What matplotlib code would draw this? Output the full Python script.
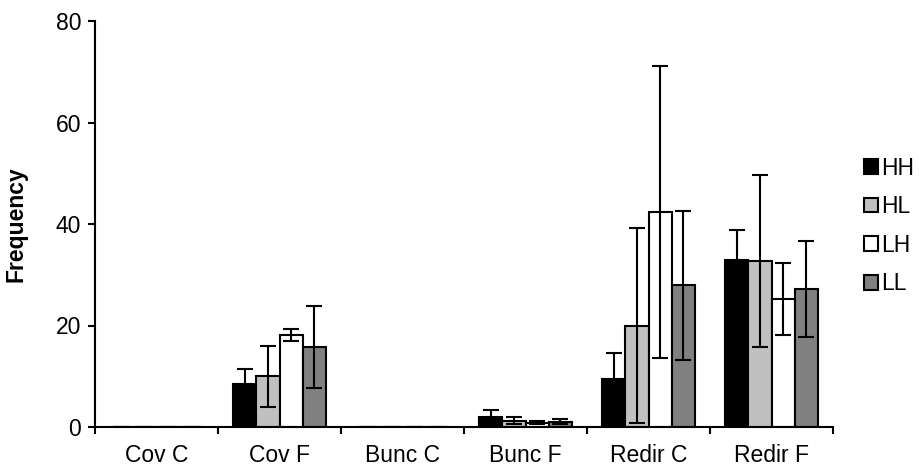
import matplotlib
matplotlib.use("Agg")
import matplotlib.pyplot as plt
import numpy as np
from matplotlib.patches import Patch

plt.rcParams['font.family'] = ['Liberation Sans', 'DejaVu Sans']

categories = ["Cov C", "Cov F", "Bunc C", "Bunc F", "Redir C", "Redir F"]
series = ["HH", "HL", "LH", "LL"]
HH = [0, 8.5, 0, 2.0, 9.5, 33.0]
HL = [0, 10.0, 0, 1.2, 20.0, 32.7]
LH = [0, 18.2, 0, 0.8, 42.3, 25.2]
LL = [0, 15.7, 0, 1.0, 27.9, 27.2]
HH_err = [0, 3.0, 0, 1.3, 5.0, 5.8]
HL_err = [0, 6.0, 0, 0.7, 19.3, 16.9]
LH_err = [0, 1.2, 0, 0.3, 28.8, 7.1]
LL_err = [0, 8.1, 0, 0.5, 14.6, 9.5]
colors = ["#000000", "#C0C0C0", "#FFFFFF", "#808080"]

values = [HH, HL, LH, LL]
errors = [HH_err, HL_err, LH_err, LL_err]

fig = plt.figure(figsize=(9.23, 4.76), dpi=100)
ax = fig.add_axes([95/923, 49/476, (833-95)/923, (455-49)/476])

x = np.arange(len(categories))
w = 0.1875
fs = 16.5
lw = 1.5
for i, (vals, errs, c, name) in enumerate(zip(values, errors, colors, series)):
    pos = x + (i - 1.5) * w
    ax.bar(pos, vals, width=w, color=c, edgecolor="black", linewidth=lw, label=name, zorder=2)
    ax.errorbar(pos, vals, yerr=errs, fmt="none", ecolor="black", elinewidth=lw,
                capsize=6, capthick=lw, zorder=3)

ax.set_xlim(-0.5, len(categories) - 0.5)
ax.set_ylim(0, 80)
ax.set_yticks([0, 20, 40, 60, 80])
ax.set_xticks(np.arange(-0.5, len(categories)), minor=False)
ax.set_xticklabels([])
ax.set_xticks(x, minor=True)
ax.set_xticklabels(categories, minor=True)
ax.tick_params(axis="x", which="major", length=5, width=lw, direction="out")
ax.tick_params(axis="x", which="minor", length=0, pad=12, labelsize=fs)
ax.tick_params(axis="y", length=5, width=lw, direction="out", labelsize=fs, pad=5)
for s in ["top", "right"]:
    ax.spines[s].set_visible(False)
for s in ["left", "bottom"]:
    ax.spines[s].set_linewidth(lw)

ax.set_ylabel("Frequency", fontsize=fs, fontweight="bold", labelpad=20)

handles = [Patch(facecolor=c, edgecolor="black", linewidth=lw) for c in colors]
fig.legend(handles, series, loc="center left", bbox_to_anchor=(855/923, 0.5 + (476/2 - 226)/476),
           frameon=False, fontsize=fs, handlelength=0.6, handleheight=0.6,
           handletextpad=0.15, labelspacing=0.68, borderaxespad=0)

fig.savefig("out.png", dpi=100)
